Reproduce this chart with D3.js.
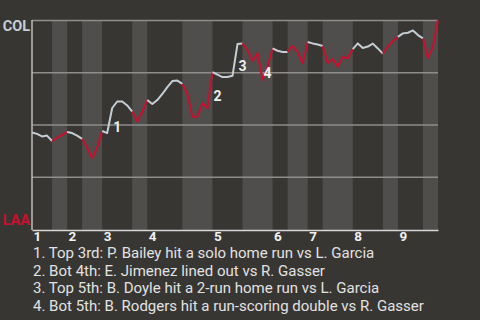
<!DOCTYPE html>
<html>
<head>
<meta charset="utf-8">
<script src="https://d3js.org/d3.v7.min.js"></script>
<style>
  body { margin: 0; background: #383633; }
  text { font-family: Roboto, sans-serif; }
</style>
</head>
<body>
<div id="wpchart"></div>
<script>
// teams at the top and bottom of the y axis
var teams = ["COL", "LAA"];
var teamColors = ["#c4ced4", "#c8102e"];

// plate appearances in each half inning: top 1, bot 1, top 2, ...
var halfInningPA = [4, 3, 3, 4, 6, 3, 7, 6, 6, 6, 3, 4, 3, 6, 6, 3, 5, 3];
var innings = ["1", "2", "3", "4", "5", "6", "7", "8", "9"];

// COL win probability after each plate appearance
var winProb = [
  0.462, 0.455, 0.443, 0.447, 0.421, 0.435, 0.450, 0.464, 0.459, 0.447,
  0.431, 0.390, 0.340, 0.388, 0.469, 0.459, 0.579, 0.610, 0.610, 0.591,
  0.562, 0.514, 0.562, 0.617, 0.598, 0.617, 0.646, 0.679, 0.708, 0.710,
  0.694, 0.646, 0.537, 0.537, 0.603, 0.578, 0.751, 0.739, 0.727, 0.727,
  0.733, 0.885, 0.888, 0.856, 0.804, 0.841, 0.713, 0.777, 0.864, 0.853,
  0.847, 0.847, 0.876, 0.847, 0.793, 0.895, 0.888, 0.883, 0.876, 0.794,
  0.813, 0.777, 0.823, 0.817, 0.861, 0.888, 0.866, 0.873, 0.887, 0.864,
  0.839, 0.872, 0.900, 0.919, 0.936, 0.939, 0.950, 0.928, 0.912, 0.818,
  0.871, 1.000
];

// big plays, marked on the line and listed under the chart
var eventIndex = [16, 36, 41, 46];
var eventText = [
  "Top 3rd: P. Bailey hit a solo home run vs L. Garcia",
  "Bot 4th: E. Jimenez lined out vs R. Gasser",
  "Top 5th: B. Doyle hit a 2-run home run vs L. Garcia",
  "Bot 5th: B. Rodgers hit a run-scoring double vs R. Gasser"
];

// set the dimensions and margins of the graph
var margin = {top: 20, right: 42, bottom: 91, left: 32},
    width = 480 - margin.left - margin.right,
    height = 320 - margin.top - margin.bottom;

var svgRoot = d3.select("#wpchart")
  .append("svg")
    .attr("width", 480)
    .attr("height", 320);

var svg = svgRoot.append("g")
    .attr("transform", "translate(" + margin.left + "," + margin.top + ")");

// half inning boundaries in plate appearances
var bounds = [0];
halfInningPA.forEach(function(n) { bounds.push(bounds[bounds.length - 1] + n); });

var x = d3.scaleLinear()
  .domain([0, bounds[bounds.length - 1]])
  .range([0, width]);

var y = d3.scaleLinear()
  .domain([0, 1])
  .range([height, 0]);

// lighter bands for the bottom halves
svg.selectAll(".band")
  .data(d3.range(halfInningPA.length).filter(function(k) { return k % 2 == 1; }))
  .enter()
  .append("rect")
    .attr("class", "band")
    .attr("x", function(k) { return x(bounds[k]); })
    .attr("y", 0)
    .attr("width", function(k) { return x(bounds[k + 1]) - x(bounds[k]); })
    .attr("height", height + 1)
    .attr("fill", "#4f4e4c");

// horizontal grid
var grid = svg.append("g")
  .call(d3.axisLeft(y).tickValues([0.25, 0.5, 0.75, 1]).tickSize(-width).tickFormat(""));
grid.select(".domain").remove();
grid.selectAll("line")
  .attr("stroke", "#8e8d8b")
  .attr("stroke-width", 1.5);

// left and bottom axis lines
svg.append("line")
  .attr("x1", 0).attr("x2", 0)
  .attr("y1", 0).attr("y2", height + 1)
  .attr("stroke", "#bdbdbd")
  .attr("stroke-width", 1.5);

var innStarts = innings.map(function(d, i) { return bounds[i * 2]; });
var xAxis = svg.append("g")
  .attr("transform", "translate(0," + (height + 1) + ")")
  .call(d3.axisBottom(x).tickValues(innStarts).tickSize(0)
    .tickFormat(function(d, i) { return innings[i]; }));
xAxis.select(".domain")
  .attr("stroke", "#d6d6d6")
  .attr("stroke-width", 1.5);
xAxis.selectAll("text")
  .attr("text-anchor", "start")
  .attr("x", 1)
  .attr("y", 11)
  .attr("dy", 0)
  .attr("fill", "#f0f0f0")
  .style("font-family", "Roboto")
  .style("font-size", "13.5px")
  .style("font-weight", "bold");

// team names
svgRoot.append("text")
  .attr("x", 30)
  .attr("y", 31)
  .attr("text-anchor", "end")
  .attr("fill", teamColors[0])
  .style("font-size", "14.5px")
  .style("font-weight", "bold")
  .text(teams[0]);

svgRoot.append("text")
  .attr("x", 30)
  .attr("y", 225)
  .attr("text-anchor", "end")
  .attr("fill", teamColors[1])
  .style("font-size", "14.5px")
  .style("font-weight", "bold")
  .text(teams[1]);

// win probability line, coloured by the team at bat
var line = d3.line()
  .x(function(i) { return x(i); })
  .y(function(i) { return y(winProb[i]); });

svg.selectAll(".wp")
  .data(d3.range(halfInningPA.length))
  .enter()
  .append("path")
    .attr("class", "wp")
    .attr("d", function(k) { return line(d3.range(bounds[k], bounds[k + 1] + 1)); })
    .attr("fill", "none")
    .attr("stroke", function(k) { return teamColors[k % 2]; })
    .attr("stroke-width", 2)
    .attr("stroke-linejoin", "round");

// event numbers next to the line
svg.selectAll(".evnum")
  .data(eventIndex)
  .enter()
  .append("text")
    .attr("class", "evnum")
    .attr("x", function(d) { return x(d) + 1; })
    .attr("y", function(d) { return (y(winProb[d - 1]) + y(winProb[d])) / 2 + 11; })
    .attr("fill", "#eeeeee")
    .style("font-size", "14px")
    .style("font-weight", "bold")
    .text(function(d, i) { return i + 1; });

// event list
svgRoot.selectAll(".evtext")
  .data(eventText)
  .enter()
  .append("text")
    .attr("class", "evtext")
    .attr("x", 33)
    .attr("y", function(d, i) { return 258 + i * 17.6; })
    .attr("fill", "#e2e2e2")
    .style("font-size", "15px")
    .text(function(d, i) { return (i + 1) + ". " + d; });
</script>
</body>
</html>
